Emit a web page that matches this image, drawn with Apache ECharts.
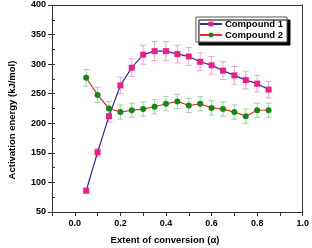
<!DOCTYPE html>
<html><head><meta charset="utf-8">
<script src="https://cdn.jsdelivr.net/npm/echarts@6/dist/echarts.min.js"></script>
<style>html,body{margin:0;padding:0;background:#fff}#c{width:312px;height:248px}</style>
</head><body><div id="c"></div>
<script>
var alpha = [0.05,0.10,0.15,0.20,0.25,0.30,0.35,0.40,0.45,0.50,0.55,0.60,0.65,0.70,0.75,0.80,0.85];
var compound1 = [86,151,212,264,294,316,322,322,317,313,304,298,289,281,273,267,257];
var compound1Err = [4,7,10,14,15,16,16,16,15,15,15,15,15,15,15,14,14];
var compound2 = [277,248,225,219,222,224,228,233,237,230,233,226,224,219,212,222,222];
var compound2Err = [14,13,12,12,12,12,12,12,12,12,12,12,12,12,12,12,12];
var xTitle = 'Extent of conversion (α)';
var yTitle = 'Activation energy (kJ/mol)';

function pairs(xs, ys){ return xs.map(function(x,i){return [x, ys[i]];}); }
function errData(xs, ys, es){ return xs.map(function(x,i){return [x, ys[i]-es[i], ys[i]+es[i]];}); }
function errSeries(data, color){
  return {
    type:'custom', data:data, z:1, silent:true,
    encode:{x:0,y:[1,2]},
    renderItem:function(params, api){
      var x=api.value(0), lo=api.coord([x,api.value(1)]), hi=api.coord([x,api.value(2)]);
      var w=3;
      var st={stroke:color,lineWidth:1};
      return {type:'group',children:[
        {type:'line',shape:{x1:lo[0],y1:lo[1],x2:hi[0],y2:hi[1]},style:st},
        {type:'line',shape:{x1:lo[0]-w,y1:lo[1],x2:lo[0]+w,y2:lo[1]},style:st},
        {type:'line',shape:{x1:hi[0]-w,y1:hi[1],x2:hi[0]+w,y2:hi[1]},style:st}
      ]};
    }
  };
}
var labelFont = {fontFamily:'Liberation Sans', fontWeight:'bold', fontSize:9, color:'#000'};
var titleFont = {fontFamily:'Liberation Sans', fontWeight:'bold', fontSize:9.5, fill:'#000'};
var chart = echarts.init(document.getElementById('c'), null, {renderer:'canvas'});
chart.setOption({
  animation:false,
  grid:{left:52,right:7,top:5,bottom:36},
  graphic:[
    {type:'text', x:165, y:240, style:Object.assign({text:xTitle, align:'center', verticalAlign:'middle'}, titleFont)},
    {type:'text', x:12, y:120, rotation:Math.PI/2, style:Object.assign({text:yTitle, align:'center', verticalAlign:'middle'}, titleFont)}
  ],
  legend:{
    top:17, right:25, orient:'vertical', itemGap:1, itemWidth:22, itemHeight:6,
    padding:[2,4,2,3], backgroundColor:'#fff', borderColor:'#555', borderWidth:1,
    shadowColor:'#000', shadowOffsetX:3, shadowOffsetY:3, shadowBlur:0,
    textStyle:{fontFamily:'Liberation Sans', fontWeight:'bold', fontSize:9.5, color:'#000', padding:[0,0,0,-2]},
    data:['Compound 1','Compound 2']
  },
  xAxis:[{
    type:'value', min:-0.1, max:1.0, interval:0.1,
    axisLine:{onZero:false, lineStyle:{color:'#333',width:1}},
    axisTick:{show:true, length:4, lineStyle:{color:'#333'}},
    axisLabel:Object.assign({margin:7, formatter:function(v){
      var r=Math.round(v*10)/10; return (Math.round(r*10)%2===0 && r>=0) ? r.toFixed(1) : '';}}, labelFont),
    splitLine:{show:false}
  },{
    type:'value', min:-0.1, max:1.0, position:'top',
    axisLine:{show:true, onZero:false, lineStyle:{color:'#333'}}, axisTick:{show:false}, axisLabel:{show:false}, splitLine:{show:false}
  }],
  yAxis:[{
    type:'value', min:50, max:400, interval:50,
    axisLine:{show:true, onZero:false, lineStyle:{color:'#333',width:1}},
    axisTick:{show:true, length:4, lineStyle:{color:'#333'}},
    axisLabel:Object.assign({margin:6}, labelFont),
    splitLine:{show:false}
  },{
    type:'value', min:50, max:400, position:'right',
    axisLine:{show:true, onZero:false, lineStyle:{color:'#333'}}, axisTick:{show:false}, axisLabel:{show:false}, splitLine:{show:false}
  },{
    type:'value', min:50, max:400, interval:25, position:'left',
    axisLine:{show:false, onZero:false}, axisTick:{show:true, inside:true, length:3, lineStyle:{color:'#333'}},
    axisLabel:{show:false}, splitLine:{show:false}
  }],
  series:[
    errSeries(errData(alpha, compound1, compound1Err), '#f7a0cf'),
    errSeries(errData(alpha, compound2, compound2Err), '#9fd49f'),
    {name:'Compound 1', type:'line', data:pairs(alpha, compound1), symbol:'rect', symbolSize:6, z:3,
     lineStyle:{color:'#2b2bb0', width:1.2}, itemStyle:{color:'#f01e82'}},
    {name:'Compound 2', type:'line', data:pairs(alpha, compound2), symbol:'circle', symbolSize:6, z:3,
     lineStyle:{color:'#f02828', width:1.2}, itemStyle:{color:'#108a10'}}
  ]
});
</script></body></html>
